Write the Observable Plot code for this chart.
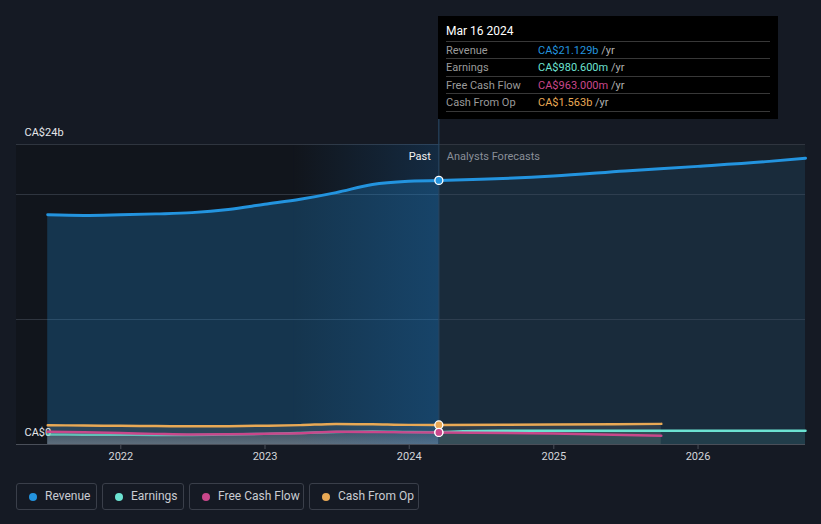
<!DOCTYPE html>
<html><head><meta charset="utf-8">
<script src="https://cdn.jsdelivr.net/npm/d3@7"></script>
<script src="https://cdn.jsdelivr.net/npm/@observablehq/plot@0.6"></script>
<style>
html,body{margin:0;padding:0;background:#151a24;font-family:Roboto,"Noto Sans",sans-serif;}
#wrap{position:relative;width:821px;height:524px;overflow:hidden;background:#151a24;}
#chart{position:absolute;left:0;top:0;}
.tip{position:absolute;left:438px;top:16px;width:340px;height:103px;background:#000;}
.tip .title{position:absolute;left:8px;top:7px;font-size:12px;color:#fff;line-height:16px;}
.tip .row{position:absolute;left:8px;width:324px;height:17px;border-top:1px solid #383838;font-size:11px;line-height:17px;}
.tip .row.last{border-bottom:1px solid #383838;}
.tip .lab{position:absolute;left:0;color:#9a9a9a;}
.tip .val{position:absolute;left:92px;}
.tip .unit{color:#b0b0b0;}
.legend .item{position:absolute;top:483px;height:27px;border:1px solid #3a3f4a;border-radius:3px;box-sizing:border-box;font-size:12px;color:#c9ccd2;line-height:25px;}
.legend .dot{position:absolute;left:12px;top:9px;width:8px;height:8px;border-radius:50%;}
.legend .txt{position:absolute;left:28px;}
</style>
</head><body>
<div id="wrap"><div id="chart"></div><div class="tip" id="tip"></div><div class="legend" id="legend"></div></div>
<script>
// ---- data (CA$ billions) ----
const pastDates = ["2021-06-30","2021-09-30","2021-12-31","2022-03-31","2022-06-30","2022-09-30","2022-12-31","2023-03-31","2023-06-30","2023-09-30","2023-12-31","2024-03-16"];
const revenuePast  = [18.38,18.33,18.38,18.45,18.55,18.80,19.22,19.62,20.15,20.80,21.06,21.129];
const earningsPast = [0.80,0.79,0.78,0.77,0.77,0.80,0.85,0.92,1.00,1.04,1.00,0.9806];
const fcfPast      = [1.02,0.98,0.92,0.85,0.80,0.82,0.86,0.90,1.02,1.00,0.97,0.963];
const cfoPast      = [1.54,1.52,1.50,1.48,1.46,1.47,1.50,1.55,1.65,1.62,1.57,1.563];
const revForecastDates = ["2024-03-16","2024-06-30","2024-12-31","2025-06-30","2025-12-31","2026-06-30","2026-09-30"];
const revenueForecast  = [21.129,21.22,21.48,21.88,22.25,22.65,22.9];
const earnForecastDates = ["2024-03-16","2024-06-30","2024-12-31","2025-12-31","2026-09-30"];
const earningsForecast  = [0.9806,1.08,1.10,1.10,1.10];
const cfForecastDates = ["2024-03-16","2024-12-31","2025-09-30"];
const fcfForecast = [0.963,0.88,0.70];
const cfoForecast = [1.563,1.60,1.65];
const currentDate = "2024-03-16";
const highlightStart = "2023-03-16";
const xDomain = ["2021-04-12","2026-09-30"];
const yDomain = [0,24];
const yearTicks = [2022,2023,2024,2025,2026];
const gridValues = [10,20,24];
const yLabelValues = [0,24];
const yLabelTexts = ["CA$0","CA$24b"];
const seriesNames = ["Revenue","Earnings","Free Cash Flow","Cash From Op"];
const seriesColors = ["#2394df","#6ce3d2","#c9478b","#e9a955"];
const tipTitle = "Mar 16 2024";
const tipValues = ["CA$21.129b","CA$980.600m","CA$963.000m","CA$1.563b"];
const pastLabel = "Past";
const forecastLabel = "Analysts Forecasts";

const D = s => new Date(s);
const zip = (ds, vs) => ds.map((d,i) => ({date: D(d), value: vs[i]}));
const rev = zip(pastDates, revenuePast), revF = zip(revForecastDates, revenueForecast);
const ern = zip(pastDates, earningsPast), ernF = zip(earnForecastDates, earningsForecast);
const fcf = zip(pastDates, fcfPast), fcfF = zip(cfForecastDates, fcfForecast);
const cfo = zip(pastDates, cfoPast), cfoF = zip(cfForecastDates, cfoForecast);
const cur = D(currentDate);
const [cRev, cEarn, cFcf, cCfo] = seriesColors;

const defs = () => {
  const g = d3.create("svg:defs");
  const lg = g.append("linearGradient").attr("id","hl").attr("x1","0").attr("x2","1").attr("y1","0").attr("y2","0");
  lg.append("stop").attr("offset","0").attr("stop-color","#1e78c8").attr("stop-opacity",0.0);
  lg.append("stop").attr("offset","1").attr("stop-color","#1e78c8").attr("stop-opacity",0.22);
  const gg = g.append("linearGradient").attr("id","gr").attr("x1","0").attr("x2","0").attr("y1","0").attr("y2","1");
  gg.append("stop").attr("offset","0").attr("stop-color","#8a8d94").attr("stop-opacity",0.2);
  gg.append("stop").attr("offset","1").attr("stop-color","#9a9da4").attr("stop-opacity",0.45);
  return g.node();
};

const curve = "monotone-x";
const plot = Plot.plot({
  width: 821, height: 470,
  marginLeft: 16, marginRight: 16, marginTop: 144, marginBottom: 26,
  style: {background: "transparent", fontFamily: "Roboto, sans-serif"},
  x: {type: "utc", domain: xDomain.map(D), axis: null},
  y: {domain: yDomain, axis: null},
  marks: [
    defs,
    // background regions
    Plot.rect([0], {x1: D(xDomain[0]), x2: D(highlightStart), y1: yDomain[0], y2: yDomain[1], fill: "#11151c"}),
    Plot.rect([0], {x1: D(highlightStart), x2: cur, y1: yDomain[0], y2: yDomain[1], fill: "#11151c"}),
    Plot.rect([0], {x1: cur, x2: D(xDomain[1]), y1: yDomain[0], y2: yDomain[1], fill: "#182029"}),
    // grid
    Plot.ruleY(gridValues, {stroke: "#2f353f", strokeWidth: 1}),
    // areas
    Plot.areaY(rev, {x: "date", y: "value", fill: cRev, fillOpacity: 0.26, curve}),
    Plot.areaY(revF, {x: "date", y: "value", fill: cRev, fillOpacity: 0.1, curve}),
    Plot.areaY(cfo, {x: "date", y: "value", fill: "#8a8a8a", fillOpacity: 0.2, curve}),
    Plot.areaY(cfoF, {x: "date", y: "value", fill: "#8a8a8a", fillOpacity: 0.2, curve}),
    Plot.areaY(ern, {x: "date", y: "value", fill: "url(#gr)", curve}),
    Plot.areaY(ernF, {x: "date", y: "value", fill: cEarn, fillOpacity: 0.1, curve}),
    // highlight last year
    Plot.rect([0], {x1: D(highlightStart), x2: cur, y1: yDomain[0], y2: yDomain[1], fill: "url(#hl)"}),
    // current date rule
    Plot.ruleX([cur], {y1: 0, y2: 26, stroke: "#2a4c6c", strokeWidth: 1}),
    // baseline + ticks
    Plot.ruleY([0], {stroke: "#4a4f59", strokeWidth: 1.2}),
    Plot.axisX(yearTicks.map(y => new Date(Date.UTC(y,0,1))), {tickFormat: d3.utcFormat("%Y"), tickSize: 5, tickPadding: 3, stroke: "#4a4f59", fill: "#d4d6da", fontSize: 11, label: null}),
    // y labels
    Plot.text(yLabelValues, {x: D(xDomain[0]), y: d => d, text: (d,i) => yLabelTexts[i], dx: 8, dy: -12, textAnchor: "start", fill: "#e4e6ea", fontSize: 11}),
    // past/forecast labels
    Plot.text([pastLabel], {x: cur, y: yDomain[1], text: d => d, dx: -8, dy: 12, textAnchor: "end", fill: "#f2f2f2", fontSize: 11}),
    Plot.text([forecastLabel], {x: cur, y: yDomain[1], text: d => d, dx: 8, dy: 12, textAnchor: "start", fill: "#8a8f98", fontSize: 11}),
    // lines
    Plot.line(cfo, {x: "date", y: "value", stroke: cCfo, strokeWidth: 2.5, curve}),
    Plot.line(cfoF, {x: "date", y: "value", stroke: cCfo, strokeWidth: 2.5, curve}),
    Plot.line(ernF, {x: "date", y: "value", stroke: cEarn, strokeWidth: 2.5, curve}),
    Plot.line(ern, {x: "date", y: "value", stroke: cEarn, strokeWidth: 2.5, strokeOpacity: 0.75, curve}),
    Plot.line(fcf, {x: "date", y: "value", stroke: cFcf, strokeWidth: 2.5, curve}),
    Plot.line(fcfF, {x: "date", y: "value", stroke: cFcf, strokeWidth: 2.5, curve}),
    Plot.line(rev, {x: "date", y: "value", stroke: cRev, strokeWidth: 3, curve}),
    Plot.line(revF, {x: "date", y: "value", stroke: cRev, strokeWidth: 3, curve}),
    // dots at current date
    Plot.dot([revF[0], ernF[0], cfoF[0], fcfF[0]], {x: "date", y: "value", r: 4, fill: (d,i) => [cRev,cEarn,cCfo,cFcf][i], stroke: "#fff", strokeWidth: 1.3})
  ]
});
document.getElementById("chart").appendChild(plot);

// tooltip
const tip = document.getElementById("tip");
let html = `<div class="title">${tipTitle}</div>`;
const rowTops = [25, 42, 60, 77];
seriesNames.forEach((n,i) => {
  html += `<div class="row${i===3?" last":""}" style="top:${rowTops[i]}px"><span class="lab">${n}</span><span class="val"><span style="color:${seriesColors[i]}">${tipValues[i]}</span> <span class="unit">/yr</span></span></div>`;
});
tip.innerHTML = html;

// legend
const legendLefts = [16, 102, 189, 309];
const legendWidths = [81, 82, 115, 110];
const leg = document.getElementById("legend");
leg.innerHTML = seriesNames.map((n,i) => `<div class="item" style="left:${legendLefts[i]}px;width:${legendWidths[i]}px"><span class="dot" style="background:${seriesColors[i]}"></span><span class="txt">${n}</span></div>`).join("");
</script>
</body></html>
